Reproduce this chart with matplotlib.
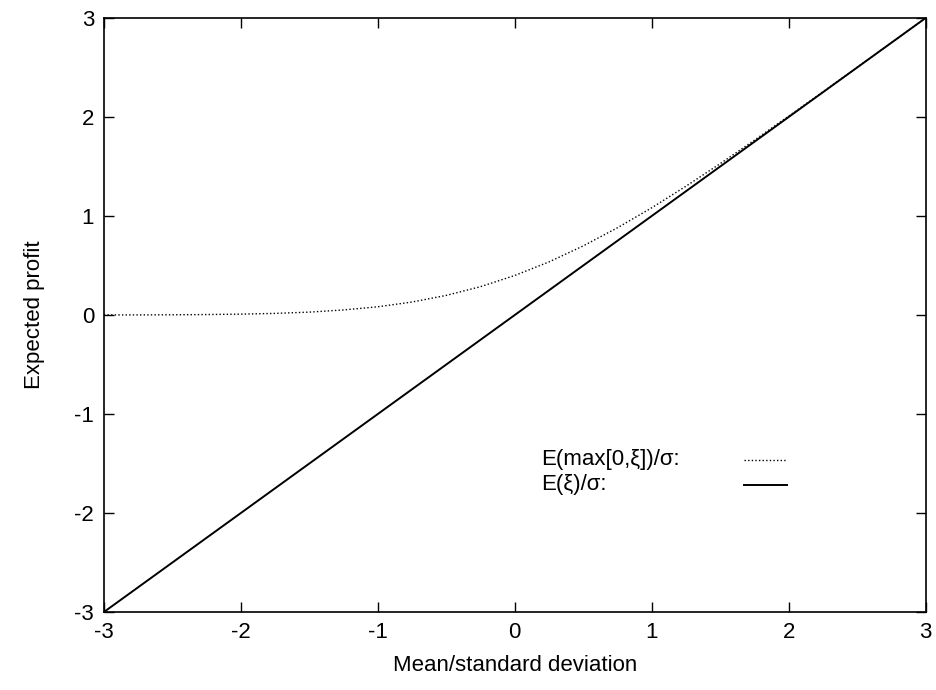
import matplotlib
matplotlib.use("Agg")
import matplotlib.pyplot as plt
import numpy as np

# values
x_vals = [-3.0, -2.75, -2.5, -2.25, -2.0, -1.75, -1.5, -1.25, -1.0, -0.75, -0.5,
          -0.25, 0.0, 0.25, 0.5, 0.75, 1.0, 1.25, 1.5, 1.75, 2.0, 2.25, 2.5, 2.75, 3.0]
e_max = [0.0004, 0.0009, 0.002, 0.0044, 0.0085, 0.016, 0.029, 0.051, 0.083, 0.131, 0.198,
         0.286, 0.399, 0.536, 0.698, 0.881, 1.083, 1.301, 1.529, 1.766, 2.009, 2.254, 2.502, 2.751, 3.0]
line_x = [-3, 3]
line_y = [-3, 3]
ticks = [-3, -2, -1, 0, 1, 2, 3]
tick_labels = ['-3', '-2', '-1', '0', '1', '2', '3']
labels = ['E(max[0,ξ])/σ:', 'E(ξ)/σ:']

plt.rcParams['font.family'] = ['Liberation Sans', 'DejaVu Sans']
plt.rcParams['font.size'] = 16

fig = plt.figure(figsize=(9.36, 6.9), dpi=100)
ax = fig.add_axes([0.111, 0.113, 0.878, 0.861])

styles = [dict(lw=1.0, linestyle=(0, (1, 1.6))), dict(lw=1.4, linestyle='-')]
ax.plot(x_vals, e_max, color='black', **styles[0])
ax.plot(line_x, line_y, color='black', **styles[1])

ax.set_xlim(-3, 3)
ax.set_ylim(-3, 3)
ax.set_xticks(ticks)
ax.set_xticklabels(tick_labels)
ax.set_yticks(ticks)
ax.set_yticklabels(tick_labels)
ax.tick_params(direction='in', length=7, width=1, top=True, right=True, pad=7)
for s in ax.spines.values():
    s.set_linewidth(1.2)

ax.set_xlabel('Mean/standard deviation', labelpad=9)
ax.set_ylabel('Expected profit', labelpad=21)

# gnuplot-style key: text left, sample on the right
rows = [0.256, 0.214]
for lab, st, yy in zip(labels, styles, rows):
    ax.text(0.532, yy, lab, transform=ax.transAxes, ha='left', va='center')
    ax.plot([0.779, 0.831], [yy, yy], transform=ax.transAxes, color='black', **st)

fig.savefig('out.png', dpi=100)
